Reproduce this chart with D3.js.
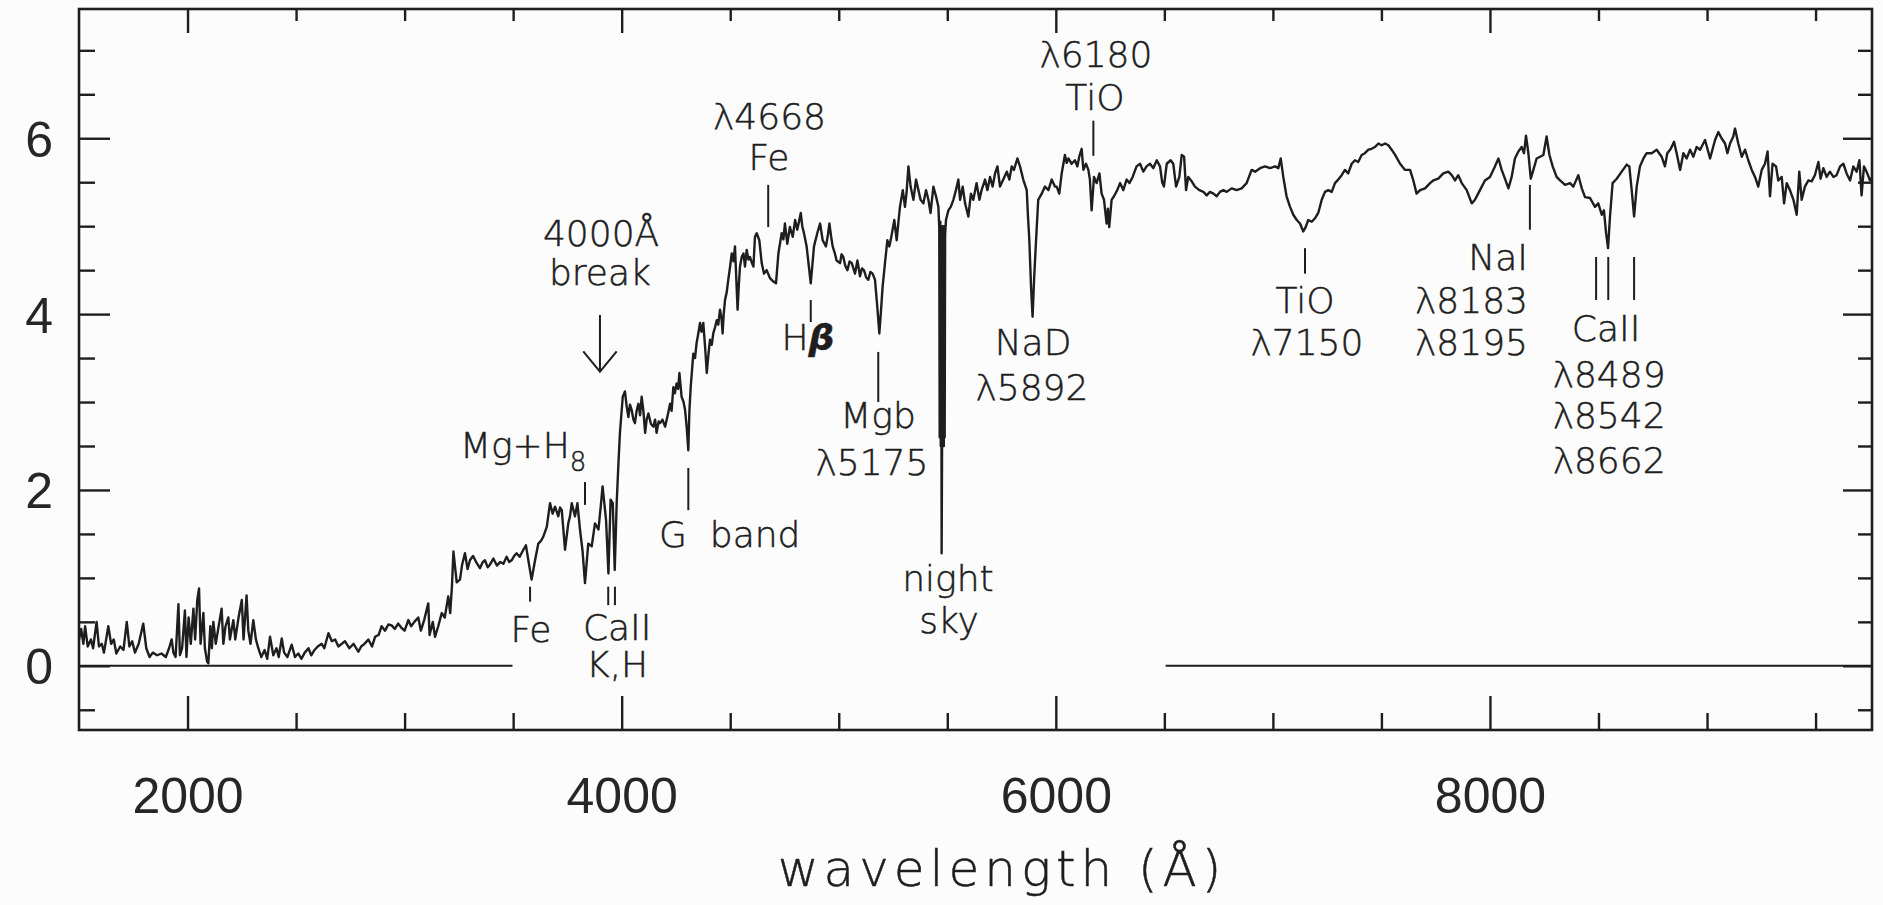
<!DOCTYPE html>
<html>
<head>
<meta charset="utf-8">
<script src="https://cdn.jsdelivr.net/npm/d3@7"></script>
<style>
  html, body { margin: 0; padding: 0; background: #fcfcfc; }
  svg { display: block; }
  .tick-label { font-family: 'Liberation Sans', Arial, sans-serif; font-size: 50px; fill: #262626; }
  .note { font-family: 'DejaVu Sans', sans-serif; font-size: 36px; font-weight: 300;
          fill: #1e1e1e; stroke: #1e1e1e; stroke-width: 0.5px; }
  .title { font-family: 'DejaVu Sans', sans-serif; font-size: 50px; font-weight: 300;
           fill: #1e1e1e; stroke: #1e1e1e; stroke-width: 0.5px; letter-spacing: 5px; }
</style>
</head>
<body>
<svg id="chart" width="1883" height="905"></svg>
<script>
'use strict';

// spectrum: [wavelength (A), flux]
const uvSpectrum = [
  [1500, 0.30], [1510, 0.42], [1520, 0.25], [1528, 0.45], [1540, 0.22], [1555, 0.30], [1565, 0.20],
  [1581, 0.50], [1592, 0.22], [1605, 0.25], [1615, 0.15], [1635, 0.45], [1648, 0.25], [1660, 0.30],
  [1672, 0.14], [1690, 0.22], [1705, 0.18], [1720, 0.50], [1732, 0.22], [1745, 0.28], [1758, 0.15],
  [1775, 0.25], [1796, 0.48], [1810, 0.20], [1825, 0.10], [1840, 0.15], [1860, 0.12], [1880, 0.14],
  [1900, 0.10], [1915, 0.20], [1927, 0.30], [1935, 0.15], [1945, 0.10], [1958, 0.70], [1965, 0.12],
  [1975, 0.20], [1988, 0.63], [1995, 0.10], [2005, 0.55], [2015, 0.25], [2027, 0.65], [2035, 0.30],
  [2045, 0.75], [2053, 0.88], [2060, 0.25], [2073, 0.60], [2080, 0.20], [2090, 0.05], [2096, 0.03],
  [2105, 0.45], [2112, 0.20], [2119, 0.50], [2130, 0.25], [2140, 0.40], [2157, 0.65], [2165, 0.25],
  [2175, 0.45], [2188, 0.55], [2195, 0.30], [2211, 0.52], [2220, 0.30], [2235, 0.55], [2250, 0.75],
  [2258, 0.30], [2272, 0.80], [2280, 0.40], [2290, 0.25], [2303, 0.52], [2315, 0.30], [2326, 0.20],
  [2340, 0.10], [2355, 0.18], [2367, 0.08], [2380, 0.33], [2395, 0.12], [2410, 0.20], [2420, 0.10],
  [2434, 0.31], [2445, 0.15], [2460, 0.10], [2480, 0.24], [2495, 0.10], [2510, 0.14], [2525, 0.08],
  [2540, 0.15], [2557, 0.20], [2570, 0.12], [2585, 0.18], [2600, 0.22], [2618, 0.25], [2630, 0.20],
  [2649, 0.37], [2665, 0.28], [2680, 0.30], [2695, 0.22], [2710, 0.25], [2725, 0.28], [2745, 0.20],
  [2765, 0.25], [2787, 0.16], [2800, 0.22], [2815, 0.25], [2833, 0.30], [2850, 0.22], [2864, 0.33],
  [2880, 0.35], [2894, 0.45], [2910, 0.40], [2925, 0.47], [2940, 0.46], [2955, 0.42], [2970, 0.48],
  [2986, 0.43], [3000, 0.40], [3017, 0.52], [3030, 0.45], [3045, 0.50], [3063, 0.55], [3075, 0.40],
  [3090, 0.52], [3109, 0.71], [3115, 0.35], [3130, 0.50], [3140, 0.33], [3155, 0.45], [3171, 0.60],
  [3185, 0.55], [3201, 0.79], [3210, 0.60], [3218, 0.90], [3225, 1.30]
];

const blueSpectrum = [
  [3240, 0.95], [3255, 0.98], [3265, 1.15], [3278, 1.28], [3290, 1.10], [3301, 1.20], [3315, 1.25],
  [3332, 1.17], [3347, 1.11], [3360, 1.18], [3370, 1.20], [3383, 1.12], [3393, 1.15], [3409, 1.22],
  [3425, 1.14], [3440, 1.18], [3455, 1.16], [3470, 1.24], [3482, 1.18], [3493, 1.20], [3505, 1.25],
  [3516, 1.28], [3530, 1.24], [3547, 1.32], [3559, 1.37], [3570, 1.20], [3585, 0.98], [3601, 1.20],
  [3616, 1.39], [3628, 1.42], [3639, 1.47], [3655, 1.58], [3670, 1.85], [3682, 1.73], [3693, 1.81],
  [3708, 1.70], [3716, 1.80], [3724, 1.77], [3739, 1.32], [3754, 1.62], [3762, 1.70], [3770, 1.85],
  [3785, 1.70], [3796, 1.85], [3808, 1.55], [3820, 1.30], [3831, 0.94], [3846, 1.39], [3862, 1.36],
  [3877, 1.62], [3893, 1.55], [3903, 1.80], [3912, 2.04], [3920, 1.85], [3928, 1.66], [3939, 1.05],
  [3949, 1.89], [3959, 1.85], [3968, 1.09], [3977, 1.85], [3985, 2.30], [3992, 2.65], [4005, 3.06],
  [4015, 3.12], [4023, 2.95], [4031, 2.83], [4038, 2.97], [4046, 2.91], [4054, 2.80], [4061, 2.76],
  [4069, 2.90], [4077, 2.98], [4085, 2.85], [4092, 3.06], [4100, 2.90], [4108, 2.65], [4115, 2.80],
  [4123, 2.87], [4135, 2.75], [4146, 2.72], [4154, 2.80], [4161, 2.65], [4170, 2.78], [4177, 2.76],
  [4188, 2.80], [4200, 2.72], [4212, 2.85], [4223, 2.98], [4230, 2.90], [4238, 3.17], [4245, 3.10],
  [4253, 3.21], [4260, 3.15], [4266, 3.33], [4276, 3.06], [4285, 3.00], [4292, 2.91], [4300, 2.70],
  [4307, 2.45], [4312, 2.90], [4318, 3.17], [4330, 3.55], [4338, 3.50], [4345, 3.67], [4353, 3.78],
  [4361, 3.90], [4368, 3.80], [4376, 3.90], [4385, 3.60], [4392, 3.33], [4400, 3.55], [4407, 3.71],
  [4415, 3.65], [4422, 3.78], [4430, 3.85], [4438, 3.93], [4445, 3.88], [4453, 4.05], [4460, 3.95],
  [4465, 3.78], [4470, 4.00], [4476, 4.16], [4484, 4.25], [4491, 4.39], [4500, 4.55], [4507, 4.69],
  [4515, 4.60], [4522, 4.77], [4528, 4.40], [4534, 4.05], [4540, 4.35], [4545, 4.54], [4553, 4.65],
  [4561, 4.69], [4568, 4.54], [4576, 4.73], [4584, 4.62], [4591, 4.65], [4600, 4.58], [4607, 4.54],
  [4614, 4.88], [4622, 4.92], [4634, 4.84], [4640, 4.70]
];

const greenSpectrum = [
  [4645, 4.58], [4656, 4.46], [4668, 4.50], [4683, 4.41], [4699, 4.37], [4711, 4.35], [4722, 4.69],
  [4737, 4.92], [4745, 4.85], [4752, 5.03], [4763, 4.80], [4775, 4.99], [4788, 4.88], [4799, 5.07],
  [4809, 4.96], [4825, 5.15], [4832, 5.00], [4840, 4.92], [4852, 4.77], [4862, 4.55], [4871, 4.35],
  [4880, 4.60], [4886, 4.77], [4901, 4.92], [4914, 5.03], [4926, 4.84], [4941, 4.77], [4950, 4.90],
  [4957, 5.03], [4965, 4.88], [4972, 4.77], [4981, 4.70], [4990, 4.61], [5006, 4.58], [5013, 4.68],
  [5021, 4.65], [5030, 4.55], [5040, 4.50], [5050, 4.60], [5060, 4.58], [5075, 4.46], [5086, 4.61],
  [5098, 4.43], [5107, 4.52], [5116, 4.50], [5126, 4.42], [5136, 4.39], [5146, 4.48], [5156, 4.46],
  [5167, 4.39], [5177, 4.10], [5187, 3.78], [5195, 4.05], [5202, 4.31], [5213, 4.58], [5224, 4.84],
  [5233, 4.77], [5240, 4.85], [5248, 4.96], [5256, 5.07], [5267, 4.84], [5275, 5.05], [5282, 5.22],
  [5295, 5.41], [5305, 5.22], [5313, 5.40], [5321, 5.68], [5331, 5.45], [5344, 5.30], [5356, 5.53],
  [5367, 5.41], [5377, 5.30], [5390, 5.26], [5402, 5.41], [5413, 5.30], [5423, 5.15], [5436, 5.45],
  [5448, 5.34], [5459, 5.22],
  // night sky residual
  [5463, 4.99], [5465, 2.60], [5468, 5.05], [5470, 2.50], [5472, 4.90], [5474, 1.28], [5476, 2.50],
  [5478, 5.00], [5480, 2.55], [5482, 4.95], [5484, 2.50], [5486, 5.00], [5488, 2.60], [5490, 4.90],
  [5494, 5.07], [5505, 5.18], [5516, 5.22], [5528, 5.30], [5540, 5.41], [5551, 5.53], [5559, 5.30],
  [5571, 5.45], [5582, 5.26], [5597, 5.11], [5609, 5.37], [5620, 5.30], [5635, 5.49], [5648, 5.30],
  [5658, 5.41], [5674, 5.53], [5685, 5.41], [5697, 5.56], [5709, 5.45], [5720, 5.60], [5731, 5.68],
  [5743, 5.45], [5758, 5.53], [5774, 5.62], [5786, 5.53], [5797, 5.68], [5807, 5.64], [5823, 5.77],
  [5835, 5.68], [5850, 5.53], [5866, 5.41], [5872, 5.10], [5878, 4.84], [5886, 4.30], [5893, 3.97],
  [5900, 4.40], [5909, 4.84], [5919, 5.30], [5935, 5.37], [5950, 5.45], [5966, 5.41], [5981, 5.53],
  [5996, 5.45], [6004, 5.45], [6016, 5.37]
];

const redSpectrum = [
  [6027, 5.60], [6042, 5.81], [6050, 5.72], [6058, 5.77], [6073, 5.71], [6088, 5.75], [6099, 5.68],
  [6108, 5.79], [6119, 5.88], [6127, 5.64], [6139, 5.71], [6150, 5.64], [6157, 5.53], [6165, 5.18],
  [6176, 5.56], [6188, 5.49], [6201, 5.60], [6211, 5.37], [6222, 5.30], [6234, 5.03], [6240, 5.20],
  [6246, 4.99], [6257, 5.30], [6268, 5.34], [6283, 5.41], [6296, 5.49], [6311, 5.41], [6326, 5.53],
  [6339, 5.49], [6354, 5.56], [6372, 5.68], [6388, 5.71], [6403, 5.62], [6418, 5.68], [6434, 5.71],
  [6449, 5.66], [6465, 5.75], [6480, 5.68], [6490, 5.50], [6498, 5.45], [6511, 5.71], [6529, 5.75],
  [6541, 5.71], [6554, 5.45], [6569, 5.56], [6580, 5.81], [6591, 5.79], [6600, 5.41], [6610, 5.56],
  [6626, 5.51], [6641, 5.45], [6661, 5.41], [6680, 5.39], [6695, 5.35], [6710, 5.39], [6726, 5.37],
  [6741, 5.34], [6756, 5.39], [6772, 5.41], [6787, 5.39], [6810, 5.43], [6833, 5.41], [6856, 5.43],
  [6879, 5.49], [6902, 5.64], [6918, 5.62], [6941, 5.66], [6964, 5.68], [6987, 5.66], [7010, 5.68],
  [7025, 5.66], [7036, 5.77], [7048, 5.56], [7063, 5.34], [7079, 5.22], [7094, 5.13], [7110, 5.07],
  [7125, 5.03], [7140, 4.94], [7151, 4.99], [7163, 5.07], [7179, 5.05], [7194, 5.09], [7209, 5.15],
  [7225, 5.30], [7240, 5.39], [7255, 5.41], [7271, 5.39], [7286, 5.49], [7301, 5.53], [7317, 5.58],
  [7332, 5.64], [7347, 5.60], [7363, 5.71], [7378, 5.75], [7393, 5.73], [7409, 5.81], [7424, 5.83],
  [7440, 5.87], [7455, 5.88], [7470, 5.90], [7486, 5.94], [7501, 5.92], [7517, 5.94], [7532, 5.92],
  [7547, 5.87], [7563, 5.81], [7586, 5.71]
];

const nirSpectrum = [
  [7609, 5.64], [7632, 5.64], [7647, 5.52], [7662, 5.37], [7678, 5.41], [7701, 5.43], [7724, 5.49],
  [7739, 5.52], [7762, 5.54], [7785, 5.60], [7808, 5.62], [7824, 5.58], [7839, 5.52], [7854, 5.58],
  [7870, 5.49], [7893, 5.41], [7916, 5.26], [7931, 5.30], [7954, 5.41], [7977, 5.52], [8000, 5.56],
  [8023, 5.68], [8039, 5.77], [8054, 5.64], [8069, 5.54], [8085, 5.43], [8100, 5.56], [8115, 5.77],
  [8131, 5.85], [8146, 5.90], [8157, 5.83], [8166, 6.03], [8177, 5.83], [8188, 5.54], [8200, 5.64],
  [8215, 5.77], [8231, 5.79], [8246, 5.81], [8261, 6.02], [8274, 5.81], [8289, 5.68], [8307, 5.56],
  [8323, 5.52], [8346, 5.47], [8369, 5.49], [8384, 5.45], [8407, 5.58], [8423, 5.43], [8438, 5.33],
  [8461, 5.32], [8484, 5.22], [8499, 5.26], [8515, 5.13], [8525, 5.18], [8535, 4.92], [8544, 4.75],
  [8553, 5.11], [8565, 5.49], [8584, 5.54], [8607, 5.62], [8630, 5.70], [8642, 5.68], [8653, 5.41],
  [8664, 5.11], [8676, 5.45], [8691, 5.68], [8707, 5.77], [8722, 5.83], [8745, 5.83], [8768, 5.87],
  [8791, 5.79], [8806, 5.68], [8817, 5.83], [8833, 5.88], [8848, 5.96], [8860, 5.83], [8876, 5.64],
  [8891, 5.83], [8906, 5.77], [8922, 5.87], [8937, 5.79], [8952, 5.90]
];

const farRedSpectrum = [
  [8968, 5.87], [8991, 5.98], [9014, 5.77], [9037, 5.98], [9052, 6.07], [9067, 6.00], [9083, 5.94],
  [9094, 5.83], [9106, 5.94], [9121, 6.02], [9129, 6.11], [9144, 5.94], [9160, 5.79], [9175, 5.87],
  [9190, 5.75], [9206, 5.64], [9221, 5.56], [9236, 5.45], [9252, 5.64], [9267, 5.71], [9279, 5.85],
  [9290, 5.34], [9302, 5.71], [9318, 5.68], [9328, 5.52], [9344, 5.56], [9355, 5.26], [9367, 5.49],
  [9382, 5.41], [9398, 5.30], [9413, 5.13], [9425, 5.62], [9436, 5.30], [9451, 5.45], [9467, 5.52],
  [9482, 5.51], [9497, 5.58], [9513, 5.73], [9523, 5.54], [9536, 5.66], [9551, 5.56], [9566, 5.62],
  [9582, 5.56], [9597, 5.58], [9613, 5.68], [9628, 5.71], [9643, 5.60], [9659, 5.52], [9674, 5.68],
  [9689, 5.62], [9702, 5.75], [9712, 5.35], [9723, 5.68], [9735, 5.62], [9751, 5.52], [9756, 5.55]
];

// zero flux level, drawn only where the spectrum leaves room for it
const zeroLevel = [[1500, 3497], [6506, 9760]];

// tick values
const xMajorTicks = [2000, 4000, 6000, 8000];
const xMinorTicks = [2500, 3000, 3500, 4500, 5000, 5500, 6500, 7000, 7500, 8500, 9000, 9500];
const yMajorTicks = [0, 2, 4, 6];
const yMinorTicks = [-0.5, 0.5, 1, 1.5, 2.5, 3, 3.5, 4.5, 5, 5.5, 6.5, 7];

// line identifications: wavelength and flux span of each marker
const lineMarkers = [
  {lambda: 3578, from: 0.90, to: 0.73},
  {lambda: 3831, from: 2.09, to: 1.83},
  {lambda: 3938, from: 0.90, to: 0.69},
  {lambda: 3969, from: 0.90, to: 0.69},
  {lambda: 4307, from: 2.25, to: 1.77},
  {lambda: 4675, from: 5.47, to: 4.99},
  {lambda: 4871, from: 4.16, to: 3.91},
  {lambda: 5182, from: 3.57, to: 3.00},
  {lambda: 6173, from: 6.20, to: 5.80},
  {lambda: 7148, from: 4.75, to: 4.46},
  {lambda: 8184, from: 5.47, to: 4.96},
  {lambda: 8489, from: 4.65, to: 4.16},
  {lambda: 8545, from: 4.65, to: 4.16},
  {lambda: 8664, from: 4.65, to: 4.16}
];

// labels: anchor wavelength, baseline flux, alignment
const lineLabels = [
  {text: '4000Å', lambda: 3905, flux: 4.77, anchor: 'middle'},
  {text: 'break', lambda: 3900, flux: 4.33, anchor: 'middle'},
  {text: 'Fe', lambda: 3582, flux: 0.27, anchor: 'middle'},
  {text: 'CaII', lambda: 3979, flux: 0.29, anchor: 'middle'},
  {text: 'K,H', lambda: 3979, flux: -0.13, anchor: 'middle'},
  {text: 'G  band', lambda: 4172, flux: 1.35, anchor: 'start'},
  {text: 'λ4668', lambda: 4681, flux: 6.11, anchor: 'middle'},
  {text: 'Fe', lambda: 4679, flux: 5.64, anchor: 'middle'},
  {text: 'Mgb', lambda: 5181, flux: 2.70, anchor: 'middle'},
  {text: 'λ5175', lambda: 5153, flux: 2.17, anchor: 'middle'},
  {text: 'night', lambda: 5503, flux: 0.85, anchor: 'middle'},
  {text: 'sky', lambda: 5508, flux: 0.37, anchor: 'middle'},
  {text: 'NaD', lambda: 5895, flux: 3.54, anchor: 'middle'},
  {text: 'λ5892', lambda: 5890, flux: 3.02, anchor: 'middle'},
  {text: 'λ6180', lambda: 6185, flux: 6.81, anchor: 'middle'},
  {text: 'TiO', lambda: 6180, flux: 6.32, anchor: 'middle'},
  {text: 'TiO', lambda: 7148, flux: 4.01, anchor: 'middle'},
  {text: 'λ7150', lambda: 7157, flux: 3.54, anchor: 'middle'},
  {text: 'NaI', lambda: 8175, flux: 4.50, anchor: 'end'},
  {text: 'λ8183', lambda: 8175, flux: 4.01, anchor: 'end'},
  {text: 'λ8195', lambda: 8175, flux: 3.54, anchor: 'end'},
  {text: 'CaII', lambda: 8535, flux: 3.69, anchor: 'middle'},
  {text: 'λ8489', lambda: 8549, flux: 3.17, anchor: 'middle'},
  {text: 'λ8542', lambda: 8549, flux: 2.70, anchor: 'middle'},
  {text: 'λ8662', lambda: 8549, flux: 2.19, anchor: 'middle'}
];

const breakArrow = {lambda: 3900, from: 3.99, to: 3.345, headW: 77, headH: 0.23};

const ink = '#1e1e1e';
const svg = d3.select('#chart');

const x = d3.scaleLinear().domain([1500, 9760]).range([79, 1872]);
const y = d3.scaleLinear().domain([-0.73, 7.47]).range([730, 9]);

const spectrum = [].concat(uvSpectrum, blueSpectrum, greenSpectrum,
    redSpectrum, nirSpectrum, farRedSpectrum);

/**
 * Draws one axis group and strips its domain path
 * @param {Object} axis d3 axis
 * @param {String} transform translate of the group
 * @return {Object} the group
 */
function drawAxis(axis, transform) {
  const g = svg.append('g').attr('transform', transform).call(axis);
  g.select('.domain').remove();
  g.selectAll('line').attr('stroke', ink).attr('stroke-width', 2.4);
  return g;
}

// bottom axis with labels
const bottom = drawAxis(d3.axisBottom(x).tickValues(xMajorTicks)
    .tickFormat(d3.format('d'))
    .tickSizeInner(-34).tickSizeOuter(0).tickPadding(47), 'translate(0,730)');
bottom.selectAll('text').attr('class', 'tick-label').attr('fill', null)
    .attr('font-size', null).attr('font-family', null);
drawAxis(d3.axisBottom(x).tickValues(xMinorTicks).tickSizeInner(-17)
    .tickSizeOuter(0).tickFormat(''), 'translate(0,730)');

// top axis, ticks only
drawAxis(d3.axisTop(x).tickValues(xMajorTicks).tickSizeInner(-24)
    .tickSizeOuter(0).tickFormat(''), 'translate(0,9)');
drawAxis(d3.axisTop(x).tickValues(xMinorTicks).tickSizeInner(-12)
    .tickSizeOuter(0).tickFormat(''), 'translate(0,9)');

// left axis with labels
const left = drawAxis(d3.axisLeft(y).tickValues(yMajorTicks)
    .tickFormat(d3.format('d'))
    .tickSizeInner(-31).tickSizeOuter(0).tickPadding(26), 'translate(79,0)');
left.selectAll('text').attr('class', 'tick-label').attr('fill', null)
    .attr('font-size', null).attr('font-family', null).attr('dy', '0.36em');
drawAxis(d3.axisLeft(y).tickValues(yMinorTicks).tickSizeInner(-16)
    .tickSizeOuter(0).tickFormat(''), 'translate(79,0)');

// right axis, ticks only
drawAxis(d3.axisRight(y).tickValues(yMajorTicks).tickSizeInner(-29)
    .tickSizeOuter(0).tickFormat(''), 'translate(1872,0)');
drawAxis(d3.axisRight(y).tickValues(yMinorTicks).tickSizeInner(-14)
    .tickSizeOuter(0).tickFormat(''), 'translate(1872,0)');

// frame
svg.append('rect')
    .attr('x', x(1500)).attr('y', y(7.47))
    .attr('width', x(9760) - x(1500)).attr('height', y(-0.73) - y(7.47))
    .attr('fill', 'none').attr('stroke', ink).attr('stroke-width', 2.6);

// zero level
svg.selectAll('line.zero').data(zeroLevel).enter()
    .append('line').attr('class', 'zero')
    .attr('x1', (d) => x(d[0])).attr('x2', (d) => x(d[1]))
    .attr('y1', y(0)).attr('y2', y(0))
    .attr('stroke', ink).attr('stroke-width', 2);

// spectrum
const line = d3.line().x((d) => x(d[0])).y((d) => y(d[1]));
svg.append('path').datum(spectrum)
    .attr('d', line)
    .attr('fill', 'none').attr('stroke', ink)
    .attr('stroke-width', 2.4).attr('stroke-linejoin', 'round');

// line markers
svg.selectAll('line.marker').data(lineMarkers).enter()
    .append('line').attr('class', 'marker')
    .attr('x1', (d) => x(d.lambda)).attr('x2', (d) => x(d.lambda))
    .attr('y1', (d) => y(d.from)).attr('y2', (d) => y(d.to))
    .attr('stroke', ink).attr('stroke-width', 2);

// 4000A break arrow
const a = breakArrow;
svg.append('path')
    .attr('d', 'M' + x(a.lambda) + ',' + y(a.from) + 'L' + x(a.lambda) + ',' + y(a.to) +
      'M' + x(a.lambda - a.headW) + ',' + y(a.to + a.headH) + 'L' + x(a.lambda) + ',' + y(a.to) +
      'L' + x(a.lambda + a.headW) + ',' + y(a.to + a.headH))
    .attr('fill', 'none').attr('stroke', ink).attr('stroke-width', 2);

// labels
svg.selectAll('text.note').data(lineLabels).enter()
    .append('text').attr('class', 'note')
    .attr('x', (d) => x(d.lambda)).attr('y', (d) => y(d.flux))
    .attr('text-anchor', (d) => d.anchor)
    .style('white-space', 'pre')
    .text((d) => d.text);

// Mg+H8 with subscript
const mg = svg.append('text').attr('class', 'note')
    .attr('x', x(3255)).attr('y', y(2.36));
mg.append('tspan').text('Mg+H');
mg.append('tspan').attr('font-size', '26px').attr('dy', 13).text('8');

// H beta
const hb = svg.append('text').attr('class', 'note')
    .attr('x', x(4858)).attr('y', y(3.59)).attr('text-anchor', 'middle');
hb.append('tspan').text('H');
hb.append('tspan').attr('font-style', 'italic').attr('font-weight', 'bold').text('β');

// axis title
svg.append('text').attr('class', 'title')
    .attr('x', 1002).attr('y', 886)
    .attr('text-anchor', 'middle')
    .text('wavelength (Å)');
</script>
</body>
</html>
